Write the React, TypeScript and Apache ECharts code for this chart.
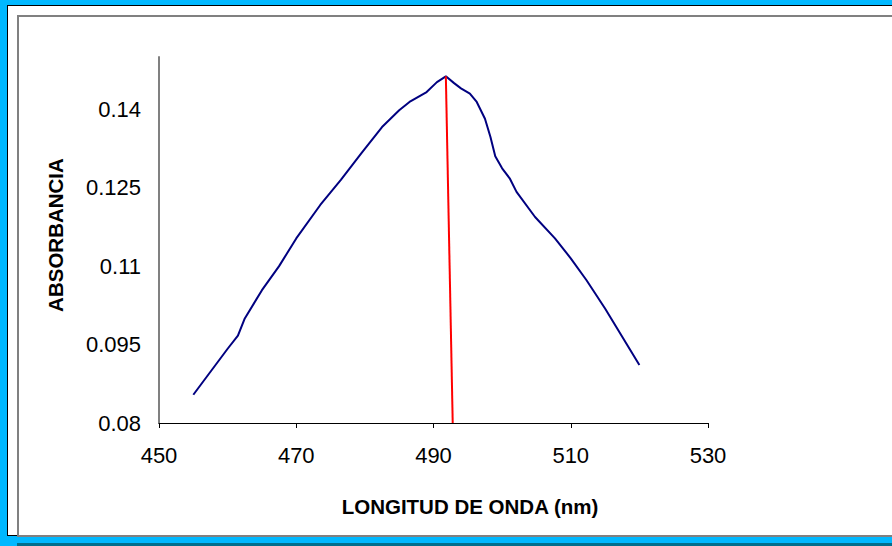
import React, { useEffect, useRef } from "react";
import * as echarts from "echarts";

const wavelengths = [
  455, 457.5, 460, 461.5, 462.5, 465, 467.5, 470, 473.5, 476.5, 479.5, 482.5, 485, 486.5,
  489, 490.5, 491.8, 493, 494, 495.3, 496.3, 497.5, 498.3, 499, 500, 501.1, 502.1, 504.8,
  507.7, 510, 512.3, 515, 517.5, 520,
];
const absorbance = [
  0.0854, 0.0898, 0.0942, 0.0967, 0.1, 0.1054, 0.11, 0.1153, 0.1217, 0.1265, 0.1316, 0.1366,
  0.1398, 0.1414, 0.1433, 0.1452, 0.1463, 0.145, 0.144, 0.143, 0.1414, 0.1382, 0.1347, 0.131,
  0.1287, 0.1268, 0.1242, 0.1194, 0.1153, 0.1115, 0.1073, 0.1019, 0.0965, 0.0911,
];
const peakLineX = [491.8, 492.8];
const peakLineY = [0.1463, 0.08];

const xTitle = "LONGITUD DE ONDA (nm)";
const yTitle = "ABSORBANCIA";

export default function App() {
  const ref = useRef<HTMLDivElement>(null);
  useEffect(() => {
    document.body.style.margin = "0";
    const chart = echarts.init(ref.current!, null, { renderer: "svg" });
    const font = "'Liberation Sans', Arial, sans-serif";
    chart.setOption({
      animation: false,
      grid: { left: 159, top: 57, width: 549, height: 366 },
      xAxis: {
        type: "value",
        min: 450,
        max: 530,
        interval: 20,
        axisLine: { lineStyle: { color: "#000", width: 1 } },
        axisTick: { show: true, length: 5, lineStyle: { color: "#000" } },
        splitLine: { show: false },
        axisLabel: { color: "#000", fontSize: 22, fontFamily: font, margin: 21 },
      },
      yAxis: {
        type: "value",
        min: 0.08,
        max: 0.15,
        interval: 0.015,
        axisLine: { show: true, lineStyle: { color: "#808080", width: 2 } },
        axisTick: { show: false },
        splitLine: { show: false },
        axisLabel: {
          color: "#000",
          fontSize: 22,
          fontFamily: font,
          margin: 18,
          showMaxLabel: false,
          formatter: (v: number) => String(parseFloat(v.toFixed(4))),
        },
      },
      graphic: [
        {
          type: "text",
          x: 470,
          y: 506,
          style: {
            text: xTitle,
            fontSize: 20.5,
            fontWeight: "bold",
            fontFamily: font,
            fill: "#000",
            align: "center",
            verticalAlign: "middle",
          },
        },
        {
          type: "text",
          x: 55,
          y: 235,
          rotation: Math.PI / 2,
          style: {
            text: yTitle,
            fontSize: 20.5,
            fontWeight: "bold",
            fontFamily: font,
            fill: "#000",
            align: "center",
            verticalAlign: "middle",
          },
        },
      ],
      series: [
        {
          type: "line",
          data: wavelengths.map((w, i) => [w, absorbance[i]]),
          showSymbol: false,
          symbol: "none",
          smooth: false,
          lineStyle: { color: "#000080", width: 2 },
        },
        {
          type: "line",
          data: peakLineX.map((w, i) => [w, peakLineY[i]]),
          showSymbol: false,
          symbol: "none",
          lineStyle: { color: "#FF0000", width: 2 },
        },
      ],
    });
    return () => chart.dispose();
  }, []);

  return (
    <div style={{ position: "relative", width: 892, height: 546, background: "#00B8FF", overflow: "hidden" }}>
      <div
        style={{
          position: "absolute",
          left: 7,
          top: 5,
          width: 900,
          height: 531,
          background: "#fff",
          borderLeft: "1px solid #000",
          borderTop: "1px solid #000",
          borderBottom: "1px solid #000",
          boxSizing: "border-box",
        }}
      />
      <div
        style={{
          position: "absolute",
          left: 17,
          top: 15,
          width: 900,
          height: 522,
          border: "2px solid #808080",
          boxSizing: "border-box",
        }}
      />
      <div style={{ position: "absolute", left: 17, top: 543, width: 880, height: 3, background: "#006E8C" }} />
      <div ref={ref} style={{ position: "absolute", left: 0, top: 0, width: 892, height: 546 }} />
    </div>
  );
}
